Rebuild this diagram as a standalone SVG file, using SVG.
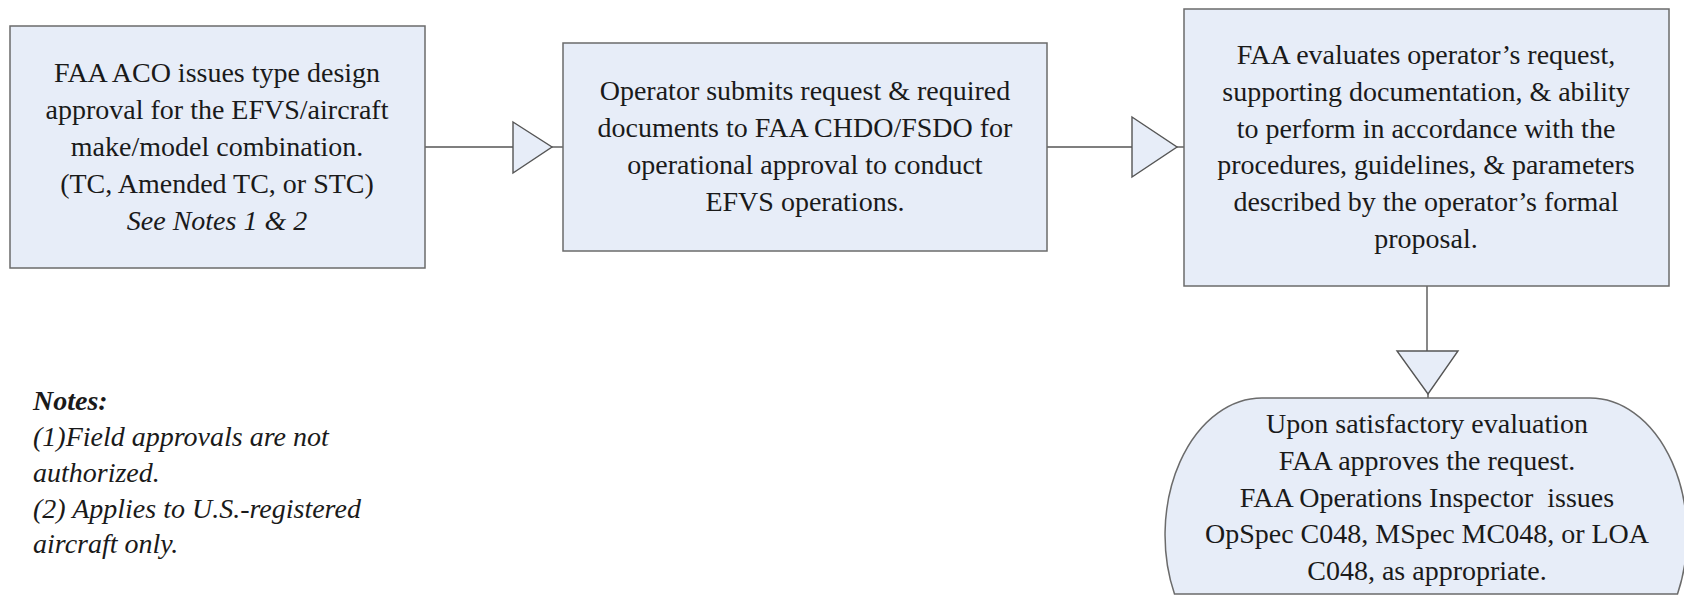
<svg xmlns="http://www.w3.org/2000/svg" width="1684" height="595" viewBox="0 0 1684 595">
<style>
.box{fill:#E7EDF8;stroke:#6b6b6b;stroke-width:1.5}
.con{fill:none;stroke:#555555;stroke-width:1.4}
.tri{fill:#E7EDF8;stroke:#555555;stroke-width:1.4}
</style>
<rect width="1684" height="595" fill="#ffffff"/>
<g id="connectors">
<line class="con" x1="425" y1="147" x2="513" y2="147"/>
<polygon class="tri" points="513,122 552,147 513,173"/>
<line class="con" x1="552" y1="147" x2="563" y2="147"/>
<line class="con" x1="1047" y1="147" x2="1132" y2="147"/>
<polygon class="tri" points="1132,117 1177,147 1132,177"/>
<line class="con" x1="1177" y1="147" x2="1184" y2="147"/>
<line class="con" x1="1427" y1="286" x2="1427" y2="351"/>
<polygon class="tri" points="1397,351 1458,351 1428,394"/>
<line class="con" x1="1428" y1="394" x2="1428" y2="398"/>
</g>
<g id="aco-approval">
<rect class="box" x="10" y="26" width="415" height="242"/>
<text x="217" y="82" font-family="Times New Roman" font-size="28" fill="#1a1a1a" text-anchor="middle">FAA ACO issues type design</text>
<text x="217" y="119" font-family="Times New Roman" font-size="28" fill="#1a1a1a" text-anchor="middle">approval for the EFVS/aircraft</text>
<text x="217" y="156" font-family="Times New Roman" font-size="28" fill="#1a1a1a" text-anchor="middle">make/model combination.</text>
<text x="217" y="193" font-family="Times New Roman" font-size="28" fill="#1a1a1a" text-anchor="middle">(TC, Amended TC, or STC)</text>
<text x="217" y="230" font-family="Times New Roman" font-size="28" fill="#1a1a1a" text-anchor="middle" font-style="italic">See Notes 1 &amp; 2</text>
</g>
<g id="operator-submits">
<rect class="box" x="563" y="43" width="484" height="208"/>
<text x="805" y="100" font-family="Times New Roman" font-size="28" fill="#1a1a1a" text-anchor="middle">Operator submits request &amp; required</text>
<text x="805" y="137" font-family="Times New Roman" font-size="28" fill="#1a1a1a" text-anchor="middle">documents to FAA CHDO/FSDO for</text>
<text x="805" y="174" font-family="Times New Roman" font-size="28" fill="#1a1a1a" text-anchor="middle">operational approval to conduct</text>
<text x="805" y="211" font-family="Times New Roman" font-size="28" fill="#1a1a1a" text-anchor="middle">EFVS operations.</text>
</g>
<g id="faa-evaluates">
<rect class="box" x="1184" y="9" width="485" height="277"/>
<text x="1426" y="64" font-family="Times New Roman" font-size="28" fill="#1a1a1a" text-anchor="middle">FAA evaluates operator&#8217;s request,</text>
<text x="1426" y="101" font-family="Times New Roman" font-size="28" fill="#1a1a1a" text-anchor="middle">supporting documentation, &amp; ability</text>
<text x="1426" y="138" font-family="Times New Roman" font-size="28" fill="#1a1a1a" text-anchor="middle">to perform in accordance with the</text>
<text x="1426" y="174" font-family="Times New Roman" font-size="28" fill="#1a1a1a" text-anchor="middle">procedures, guidelines, &amp; parameters</text>
<text x="1426" y="211" font-family="Times New Roman" font-size="28" fill="#1a1a1a" text-anchor="middle">described by the operator&#8217;s formal</text>
<text x="1426" y="248" font-family="Times New Roman" font-size="28" fill="#1a1a1a" text-anchor="middle">proposal.</text>
</g>
<g id="faa-approves">
<path class="box" d="M1262,398 L1590,398 A97,137 0 0 1 1677.5,594 L1174.5,594 A97,137 0 0 1 1262,398 Z"/>
<text x="1427" y="433" font-family="Times New Roman" font-size="28" fill="#1a1a1a" text-anchor="middle">Upon satisfactory evaluation</text>
<text x="1427" y="470" font-family="Times New Roman" font-size="28" fill="#1a1a1a" text-anchor="middle">FAA approves the request.</text>
<text x="1427" y="507" font-family="Times New Roman" font-size="28" fill="#1a1a1a" text-anchor="middle">FAA Operations Inspector&#160; issues</text>
<text x="1427" y="543" font-family="Times New Roman" font-size="28" fill="#1a1a1a" text-anchor="middle">OpSpec C048, MSpec MC048, or LOA</text>
<text x="1427" y="580" font-family="Times New Roman" font-size="28" fill="#1a1a1a" text-anchor="middle">C048, as appropriate.</text>
</g>
<g id="notes">
<text x="33" y="410" font-family="Times New Roman" font-size="28" fill="#1a1a1a" font-style="italic" font-weight="bold">Notes:</text>
<text x="33" y="446" font-family="Times New Roman" font-size="28" fill="#1a1a1a" font-style="italic">(1)Field approvals are not</text>
<text x="33" y="482" font-family="Times New Roman" font-size="28" fill="#1a1a1a" font-style="italic">authorized.</text>
<text x="33" y="518" font-family="Times New Roman" font-size="28" fill="#1a1a1a" font-style="italic">(2) Applies to U.S.-registered</text>
<text x="33" y="553" font-family="Times New Roman" font-size="28" fill="#1a1a1a" font-style="italic">aircraft only.</text>
</g>
</svg>
